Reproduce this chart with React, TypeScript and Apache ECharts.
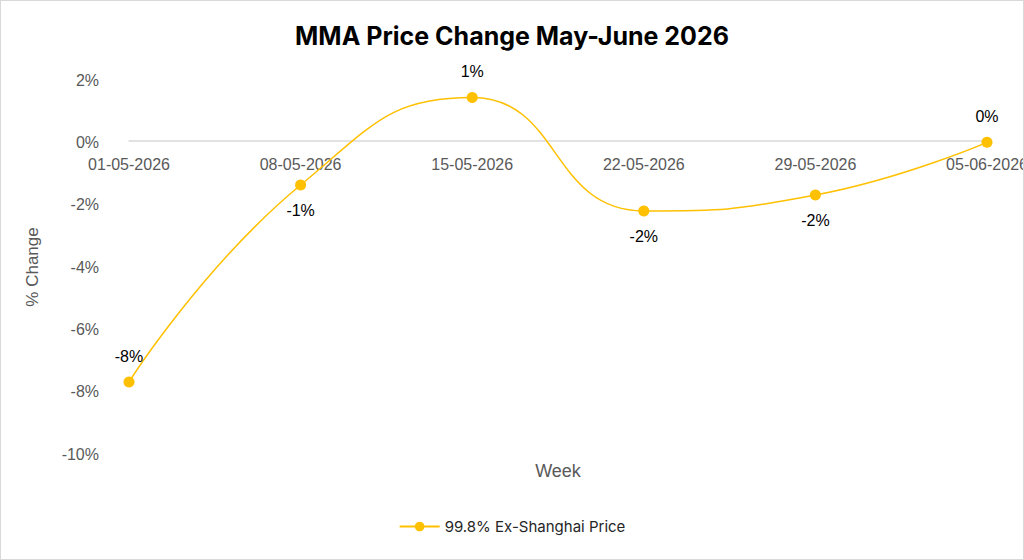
import React, { useEffect, useRef } from "react";
import * as echarts from "echarts";

const weeks = ["01-05-2026", "08-05-2026", "15-05-2026", "22-05-2026", "29-05-2026", "05-06-2026"];
const priceChange = [-7.69, -1.37, 1.44, -2.2, -1.69, 0.0];
const labelPositions = ["top", "bottom", "top", "bottom", "bottom", "top"];
const seriesName = "99.8% Ex-Shanghai Price";

export default function App() {
  const ref = useRef<HTMLDivElement>(null);
  useEffect(() => {
    if (!ref.current) return;
    const chart = echarts.init(ref.current, null, { renderer: "svg" });
    chart.setOption({
      animation: false,
      backgroundColor: "#ffffff",
      title: {
        text: "MMA Price Change May-June 2026",
        left: "center",
        top: 17,
        textStyle: { fontFamily: "Inter", fontWeight: "bold", fontSize: 25, color: "#000000" },
      },
      grid: { left: 128, right: 36, top: 79, bottom: 105, containLabel: false, outerBoundsMode: "none" },
      legend: {
        bottom: 20,
        left: "center",
        itemWidth: 40,
        itemHeight: 12,
        textStyle: { fontFamily: "Inter", fontSize: 15, color: "#262626" },
        data: [seriesName],
      },
      xAxis: {
        type: "category",
        data: weeks,
        boundaryGap: false,
        position: "bottom",
        offset: -313,
        name: "Week",
        nameLocation: "middle",
        nameGap: 321,
        nameTextStyle: { fontFamily: "Liberation Sans", fontSize: 18, color: "#595959" },
        axisLine: { onZero: false, lineStyle: { color: "#d9d9d9", width: 1.5 } },
        axisTick: { show: false },
        axisLabel: { fontFamily: "Liberation Sans", fontSize: 16, color: "#595959", margin: 15, interval: 0 },
      },
      yAxis: {
        type: "value",
        min: -10,
        max: 2,
        interval: 2,
        name: "% Change",
        nameLocation: "middle",
        nameGap: 88,
        nameTextStyle: { fontFamily: "Liberation Sans", fontSize: 17, color: "#595959" },
        axisLine: { show: false },
        axisTick: { show: false },
        splitLine: { show: false },
        axisLabel: {
          fontFamily: "Liberation Sans",
          fontSize: 16,
          color: "#595959",
          margin: 30,
          formatter: (v: number) => `${v}%`,
        },
      },
      series: [
        {
          name: seriesName,
          type: "line",
          smooth: 0.5,
          symbol: "circle",
          symbolSize: 11,
          lineStyle: { color: "#FFC000", width: 1.5 },
          itemStyle: { color: "#FFC000" },
          data: priceChange.map((v, i) => ({
            value: v,
            label: { position: labelPositions[i] },
          })),
          label: {
            show: true,
            distance: 12,
            fontFamily: "Liberation Sans",
            fontSize: 16,
            color: "#000000",
            formatter: (p: any) => `${Math.round(p.value)}%`,
          },
        },
      ],
    });
    return () => chart.dispose();
  }, []);
  return (
    <div
      ref={ref}
      style={{
        position: "fixed",
        left: 0,
        top: 0,
        width: 1024,
        height: 560,
        boxSizing: "border-box",
        border: "1px solid #d9d9d9",
      }}
    />
  );
}
